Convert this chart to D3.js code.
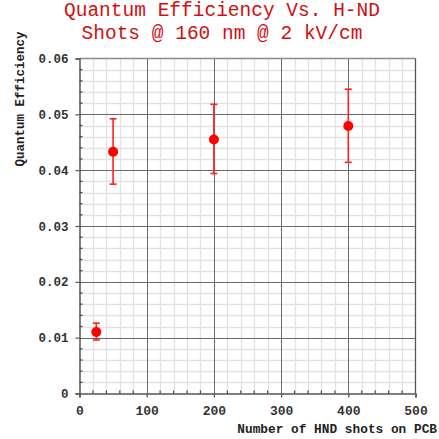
<!DOCTYPE html>
<html><head><meta charset="utf-8">
<script src="https://cdn.jsdelivr.net/npm/d3@7"></script>
<style>body{margin:0;background:#fff}svg{display:block}</style>
</head><body>
<script>
const shots = [25, 50, 200, 400];
const qe = [0.0110, 0.0433, 0.0455, 0.0479];
const errLow = [0.0096, 0.0375, 0.0394, 0.0414];
const errHigh = [0.0126, 0.0492, 0.0518, 0.0545];
const xTicks = [0, 100, 200, 300, 400, 500];
const yTicks = [0, 0.01, 0.02, 0.03, 0.04, 0.05, 0.06];
const yTickLabels = ["0", "0.01", "0.02", "0.03", "0.04", "0.05", "0.06"];
const titleLines = ["Quantum Efficiency Vs. H-ND", "Shots @ 160 nm @ 2 kV/cm"];

const W = 439, H = 439;
const svg = d3.select("body").append("svg").attr("width", W).attr("height", H);
const x = d3.scaleLinear().domain([0, 500]).range([79.5, 415.5]);
const y = d3.scaleLinear().domain([0, 0.06]).range([393.5, 58.5]);
const mono = "'Liberation Mono', 'DejaVu Sans Mono', monospace";

// minor grid
const xMinor = d3.range(0, 501, 20).filter(v => v % 100 !== 0);
const yMinor = d3.range(0, 31).map(i => i * 0.002).filter((v, i) => i % 5 !== 0);
const g = svg.append("g");
g.selectAll(".xm").data(xMinor).join("line")
  .attr("x1", d => Math.round(x(d)) + 0.5).attr("x2", d => Math.round(x(d)) + 0.5)
  .attr("y1", y(0)).attr("y2", y(0.06)).attr("stroke", "#e2e2e2").attr("stroke-width", 1.3);
g.selectAll(".ym").data(yMinor).join("line")
  .attr("y1", d => Math.round(y(d)) + 0.5).attr("y2", d => Math.round(y(d)) + 0.5)
  .attr("x1", x(0)).attr("x2", x(500)).attr("stroke", "#e2e2e2").attr("stroke-width", 1.3);
// major grid
g.selectAll(".xM").data(xTicks.slice(1, -1)).join("line")
  .attr("x1", d => Math.round(x(d)) + 0.5).attr("x2", d => Math.round(x(d)) + 0.5)
  .attr("y1", y(0)).attr("y2", y(0.06)).attr("stroke", "#6a6a6a").attr("stroke-width", 1);
g.selectAll(".yM").data(yTicks.slice(1, -1)).join("line")
  .attr("y1", d => Math.round(y(d)) + 0.5).attr("y2", d => Math.round(y(d)) + 0.5)
  .attr("x1", x(0)).attr("x2", x(500)).attr("stroke", "#6a6a6a").attr("stroke-width", 1);
// frame top & right
g.append("line").attr("x1", x(0)).attr("x2", x(500)).attr("y1", y(0.06)).attr("y2", y(0.06))
  .attr("stroke", "#8a8a8a").attr("stroke-width", 1.3);
g.append("line").attr("x1", x(500)).attr("x2", x(500)).attr("y1", y(0.06)).attr("y2", y(0))
  .attr("stroke", "#555").attr("stroke-width", 1.3);

// axes
const xAxis = d3.axisBottom(x).tickValues(xTicks).tickSize(4).tickFormat(d3.format("d"));
const yAxis = d3.axisLeft(y).tickValues(yTicks).tickSize(4).tickFormat((d, i) => yTickLabels[i]);
const gx = svg.append("g").attr("transform", `translate(0,${y(0)})`).call(xAxis);
const gy = svg.append("g").attr("transform", `translate(${x(0)},0)`).call(yAxis);
[gx, gy].forEach(a => {
  a.select(".domain").attr("stroke", "#555").attr("stroke-width", 1.5);
  a.selectAll(".tick line").attr("stroke", "#555").attr("stroke-width", 1.2);
  a.selectAll("text").attr("font-family", mono).attr("font-weight", "bold")
    .attr("font-size", 12.5).attr("fill", "#333");
});
gx.selectAll("text").attr("dy", "1.15em").attr("font-size", 13);
gy.selectAll("text").attr("dx", "-4");
// minor ticks inside
svg.append("g").selectAll("line").data(xMinor).join("line")
  .attr("x1", d => x(d)).attr("x2", d => x(d)).attr("y1", y(0)).attr("y2", y(0) - 3)
  .attr("stroke", "#444").attr("stroke-width", 1.2);
svg.append("g").selectAll("line").data(yMinor).join("line")
  .attr("y1", d => y(d)).attr("y2", d => y(d)).attr("x1", x(0)).attr("x2", x(0) + 3)
  .attr("stroke", "#444").attr("stroke-width", 1.2);

// error bars
const eb = svg.append("g").attr("stroke", "#ff2020").attr("stroke-width", 1.6);
eb.selectAll(".v").data(shots).join("line")
  .attr("x1", d => x(d)).attr("x2", d => x(d))
  .attr("y1", (d, i) => y(errLow[i])).attr("y2", (d, i) => y(errHigh[i]));
eb.selectAll(".t").data(shots).join("line")
  .attr("x1", d => x(d) - 3.5).attr("x2", d => x(d) + 3.5)
  .attr("y1", (d, i) => y(errHigh[i])).attr("y2", (d, i) => y(errHigh[i]));
eb.selectAll(".b").data(shots).join("line")
  .attr("x1", d => x(d) - 3.5).attr("x2", d => x(d) + 3.5)
  .attr("y1", (d, i) => y(errLow[i])).attr("y2", (d, i) => y(errLow[i]));
// points
svg.append("g").selectAll("circle").data(shots).join("circle")
  .attr("cx", d => x(d)).attr("cy", (d, i) => y(qe[i])).attr("r", 5)
  .attr("fill", "#ff0000");

// title
svg.append("g").selectAll("text").data(titleLines).join("text")
  .attr("x", 222).attr("y", (d, i) => 16 + i * 22.5)
  .attr("text-anchor", "middle").attr("font-family", mono)
  .attr("font-size", 19.5).attr("fill", "#d01010").text(d => d);

// axis titles
svg.append("text").attr("x", 437).attr("y", 433).attr("text-anchor", "end")
  .attr("font-family", mono).attr("font-weight", "bold").attr("font-size", 12.8)
  .attr("fill", "#222").text("Number of HND shots on PCB");
svg.append("text").attr("transform", "translate(24,99) rotate(-90)").attr("text-anchor", "middle")
  .attr("font-family", mono).attr("font-weight", "bold").attr("font-size", 12.5)
  .attr("fill", "#222").text("Quantum Efficiency");
</script>
</body></html>
